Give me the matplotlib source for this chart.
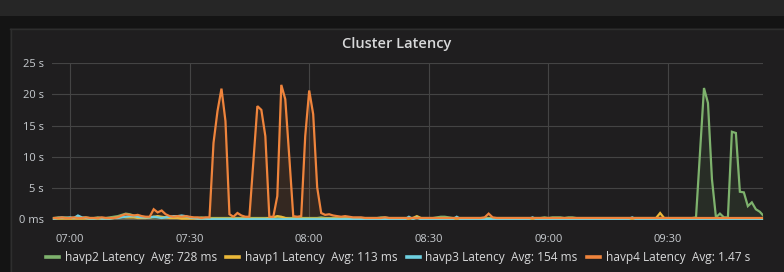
import matplotlib
matplotlib.use("Agg")
import matplotlib.pyplot as plt
from matplotlib.patches import Rectangle
from matplotlib.lines import Line2D
import numpy as np

plt.rcParams['font.family'] = ['Open Sans', 'DejaVu Sans']

# minutes after 07:00, one sample per minute
minutes = list(range(-4, 175))

havp2 = [
    0.2, 0.3, 0.2, 0.3, 0.2, 0.2, 0.3, 0.2, 0.3, 0.2,
    0.2, 0.3, 0.2, 0.2, 0.3, 0.4, 0.5, 0.7, 0.9, 0.8,
    0.6, 0.4, 0.4, 0.3, 0.3, 0.3, 0.4, 0.3, 0.3, 0.3,
    0.3, 0.2, 0.3, 0.2, 0.2, 0.2, 0.2, 0.3, 0.2, 0.2,
    0.2, 0.2, 0.2, 0.2, 0.2, 0.2, 0.2, 0.2, 0.2, 0.2,
    0.2, 0.2, 0.2, 0.2, 0.2, 0.3, 0.4, 0.3, 0.2, 0.2,
    0.2, 0.2, 0.2, 0.2, 0.2, 0.2, 0.2, 0.3, 0.2, 0.2,
    0.2, 0.2, 0.2, 0.2, 0.2, 0.2, 0.2, 0.2, 0.2, 0.2,
    0.2, 0.2, 0.3, 0.3, 0.2, 0.2, 0.2, 0.2, 0.2, 0.2,
    0.2, 0.2, 0.2, 0.2, 0.2, 0.2, 0.3, 0.4, 0.4, 0.3,
    0.2, 0.2, 0.2, 0.2, 0.2, 0.2, 0.2, 0.2, 0.2, 0.2,
    0.2, 0.2, 0.2, 0.2, 0.2, 0.2, 0.2, 0.2, 0.2, 0.2,
    0.2, 0.2, 0.2, 0.3, 0.2, 0.3, 0.3, 0.3, 0.2, 0.3,
    0.3, 0.2, 0.2, 0.2, 0.2, 0.2, 0.2, 0.2, 0.2, 0.2,
    0.2, 0.2, 0.2, 0.2, 0.2, 0.2, 0.2, 0.2, 0.2, 0.2,
    0.2, 0.2, 0.2, 0.2, 0.2, 0.2, 0.2, 0.2, 0.2, 0.2,
    0.2, 0.3, 10.6, 21.0, 18.6, 6.4, 0.3, 0.9, 0.3, 0.3,
    14.0, 13.8, 4.4, 4.3, 2.1, 2.7, 1.6, 1.2, 0.5,
]

havp1 = [
    0.1, 0.1, 0.1, 0.1, 0.1, 0.1, 0.1, 0.1, 0.1, 0.1,
    0.1, 0.1, 0.1, 0.1, 0.1, 0.2, 0.3, 0.4, 0.3, 0.3,
    0.3, 0.2, 0.2, 0.2, 0.3, 0.4, 0.5, 0.4, 0.3, 0.2,
    0.2, 0.2, 0.1, 0.1, 0.1, 0.1, 0.1, 0.1, 0.1, 0.1,
    0.1, 0.1, 0.1, 0.1, 0.1, 0.1, 0.1, 0.1, 0.1, 0.1,
    0.1, 0.1, 0.1, 0.1, 0.2, 0.3, 0.5, 0.4, 0.2, 0.1,
    0.1, 0.1, 0.1, 0.1, 0.1, 0.1, 0.1, 0.1, 0.1, 0.1,
    0.1, 0.1, 0.1, 0.1, 0.1, 0.1, 0.1, 0.1, 0.1, 0.1,
    0.1, 0.1, 0.1, 0.1, 0.1, 0.1, 0.1, 0.1, 0.1, 0.1,
    0.2, 0.5, 0.2, 0.1, 0.1, 0.1, 0.1, 0.1, 0.1, 0.1,
    0.1, 0.1, 0.1, 0.1, 0.1, 0.1, 0.1, 0.1, 0.1, 0.1,
    0.1, 0.1, 0.1, 0.1, 0.1, 0.1, 0.1, 0.1, 0.1, 0.1,
    0.1, 0.1, 0.1, 0.1, 0.1, 0.1, 0.1, 0.1, 0.1, 0.1,
    0.1, 0.1, 0.1, 0.1, 0.1, 0.1, 0.1, 0.1, 0.1, 0.1,
    0.1, 0.1, 0.1, 0.1, 0.1, 0.1, 0.1, 0.1, 0.1, 0.1,
    0.1, 0.2, 1.0, 0.2, 0.1, 0.1, 0.1, 0.1, 0.1, 0.1,
    0.1, 0.1, 0.1, 0.1, 0.1, 0.1, 0.1, 0.1, 0.1, 0.1,
    0.1, 0.1, 0.1, 0.1, 0.1, 0.1, 0.1, 0.1, 0.1,
]

havp3 = [
    0.1, 0.2, 0.3, 0.2, 0.3, 0.2, 0.6, 0.3, 0.2, 0.1,
    0.1, 0.2, 0.1, 0.1, 0.1, 0.2, 0.2, 0.3, 0.4, 0.5,
    0.5, 0.4, 0.3, 0.3, 0.3, 0.4, 0.3, 0.2, 0.3, 0.4,
    0.5, 0.5, 0.6, 0.5, 0.3, 0.2, 0.1, 0.1, 0.1, 0.0,
    0.0, 0.0, 0.0, 0.0, 0.0, 0.0, 0.0, 0.0, 0.0, 0.0,
    0.0, 0.0, 0.0, 0.0, 0.0, 0.0, 0.0, 0.0, 0.0, 0.0,
    0.0, 0.0, 0.0, 0.0, 0.0, 0.0, 0.0, 0.0, 0.0, 0.0,
    0.0, 0.0, 0.0, 0.0, 0.0, 0.0, 0.0, 0.0, 0.0, 0.0,
    0.0, 0.0, 0.0, 0.0, 0.0, 0.0, 0.0, 0.0, 0.0, 0.4,
    0.0, 0.3, 0.0, 0.0, 0.0, 0.0, 0.0, 0.0, 0.0, 0.0,
    0.0, 0.4, 0.0, 0.0, 0.0, 0.0, 0.0, 0.0, 0.0, 0.0,
    0.0, 0.0, 0.0, 0.0, 0.0, 0.0, 0.0, 0.0, 0.0, 0.0,
    0.3, 0.0, 0.0, 0.0, 0.0, 0.0, 0.0, 0.0, 0.0, 0.0,
    0.0, 0.0, 0.0, 0.0, 0.0, 0.0, 0.0, 0.0, 0.0, 0.0,
    0.0, 0.0, 0.0, 0.0, 0.0, 0.3, 0.0, 0.0, 0.0, 0.0,
    0.0, 0.0, 0.0, 0.0, 0.0, 0.0, 0.0, 0.0, 0.0, 0.0,
    0.0, 0.0, 0.0, 0.0, 0.0, 0.0, 0.0, 0.0, 0.0, 0.0,
    0.0, 0.0, 0.0, 0.0, 0.0, 0.0, 0.0, 0.0, 0.0,
]

havp4 = [
    0.2, 0.2, 0.3, 0.2, 0.2, 0.3, 0.2, 0.2, 0.3, 0.2,
    0.2, 0.2, 0.3, 0.2, 0.2, 0.2, 0.3, 0.6, 0.8, 0.7,
    0.6, 0.7, 0.5, 0.4, 0.4, 1.6, 1.1, 1.4, 0.8, 0.5,
    0.4, 0.5, 0.4, 0.5, 0.4, 0.3, 0.3, 0.2, 0.3, 0.3,
    12.2, 17.3, 20.9, 15.7, 0.8, 0.4, 1.0, 0.6, 0.4, 0.4,
    9.3, 18.1, 17.5, 13.3, 0.4, 0.4, 3.7, 21.5, 19.2, 10.0,
    0.5, 0.4, 0.5, 13.3, 20.6, 16.8, 5.1, 1.0, 0.7, 0.8,
    0.6, 0.5, 0.4, 0.5, 0.4, 0.3, 0.3, 0.3, 0.2, 0.2,
    0.2, 0.2, 0.2, 0.3, 0.2, 0.2, 0.2, 0.2, 0.2, 0.2,
    0.2, 0.2, 0.2, 0.2, 0.2, 0.2, 0.2, 0.2, 0.2, 0.2,
    0.2, 0.2, 0.2, 0.2, 0.2, 0.2, 0.2, 0.2, 0.3, 0.9,
    0.3, 0.2, 0.2, 0.2, 0.2, 0.2, 0.2, 0.2, 0.2, 0.2,
    0.2, 0.2, 0.2, 0.2, 0.2, 0.2, 0.2, 0.2, 0.2, 0.2,
    0.2, 0.2, 0.2, 0.2, 0.2, 0.2, 0.2, 0.2, 0.2, 0.2,
    0.2, 0.2, 0.2, 0.2, 0.2, 0.2, 0.2, 0.2, 0.2, 0.2,
    0.2, 0.2, 0.2, 0.2, 0.2, 0.2, 0.2, 0.2, 0.2, 0.2,
    0.2, 0.2, 0.2, 0.2, 0.2, 0.2, 0.2, 0.2, 0.2, 0.2,
    0.2, 0.2, 0.2, 0.2, 0.2, 0.2, 0.2, 0.2, 0.2,
]

series_names = ["havp2 Latency", "havp1 Latency", "havp3 Latency", "havp4 Latency"]
series_avgs = ["728 ms", "113 ms", "154 ms", "1.47 s"]
series_colors = ["#7eb26d", "#eab839", "#6ed0e0", "#ef843c"]

x_ticks = [0, 30, 60, 90, 120, 150]
x_labels = ["07:00", "07:30", "08:00", "08:30", "09:00", "09:30"]
y_ticks = [0, 5, 10, 15, 20, 25]
y_labels = ["0 ms", "5 s", "10 s", "15 s", "20 s", "25 s"]

W, H = 784, 272
fig = plt.figure(figsize=(W / 100, H / 100), dpi=100)
panel_bg = "#1f1e1f"
fig.patch.set_facecolor(panel_bg)

def fx(px):
    return px / W

def fy(py):
    return 1 - py / H

# page chrome
fig.patches.append(Rectangle((0, fy(16)), 1, 16 / H, transform=fig.transFigure,
                             facecolor="#262626", edgecolor="none", zorder=0))
fig.patches.append(Rectangle((0, fy(28)), 1, 12 / H, transform=fig.transFigure,
                             facecolor="#141414", edgecolor="none", zorder=0))
fig.patches.append(Rectangle((0, 0), fx(10), fy(28), transform=fig.transFigure,
                             facecolor="#141414", edgecolor="none", zorder=0))
fig.lines.append(Line2D([fx(10), 1], [fy(28.5), fy(28.5)], transform=fig.transFigure,
                        color="#2e2e2e", lw=1))
fig.lines.append(Line2D([fx(10.5), fx(10.5)], [0, fy(28.5)], transform=fig.transFigure,
                        color="#2e2e2e", lw=1))

ax = fig.add_axes([fx(52), fy(220), fx(763) - fx(52), fy(63) - fy(220)])
ax.set_facecolor("none")

t = np.array(minutes)
all_series = [havp2, havp1, havp3, havp4]
handles = []
for vals, name, avg, col in zip(all_series, series_names, series_avgs, series_colors):
    v = np.array(vals)
    ax.fill_between(t, 0, v, color=col, alpha=0.1, lw=0)
    ax.plot(t, v, color=col, lw=1.6, solid_joinstyle="miter")
    handles.append(Line2D([0], [0], color=col, lw=2.6))

ax.set_xlim(-4.5, 173.8)
ax.set_ylim(-0.12, 25)
ax.set_xticks(x_ticks)
ax.set_xticklabels(x_labels)
ax.set_yticks(y_ticks)
ax.set_yticklabels(y_labels)
ax.tick_params(axis="both", length=0, colors="#c8ccd0", labelsize=8)
ax.tick_params(axis="x", pad=10)
ax.tick_params(axis="y", pad=6)
ax.grid(True, color="#444444", lw=0.8)
ax.set_axisbelow(True)
for s in ax.spines.values():
    s.set_visible(False)

fig.text(fx(397), fy(44), "Cluster Latency", ha="center", va="center",
         color="#d8d9da", fontsize=10.5, fontweight="semibold")

labels = [f"{n}  Avg: {a}" for n, a in zip(series_names, series_avgs)]
leg = fig.legend(handles, labels, loc="center", bbox_to_anchor=(fx(398), fy(258)),
                 ncol=4, frameon=False, handlelength=1.1, handletextpad=0.45,
                 columnspacing=0.8, fontsize=8.6, labelcolor="#d8d9da")

fig.savefig("out.png", dpi=100, facecolor=fig.get_facecolor())
